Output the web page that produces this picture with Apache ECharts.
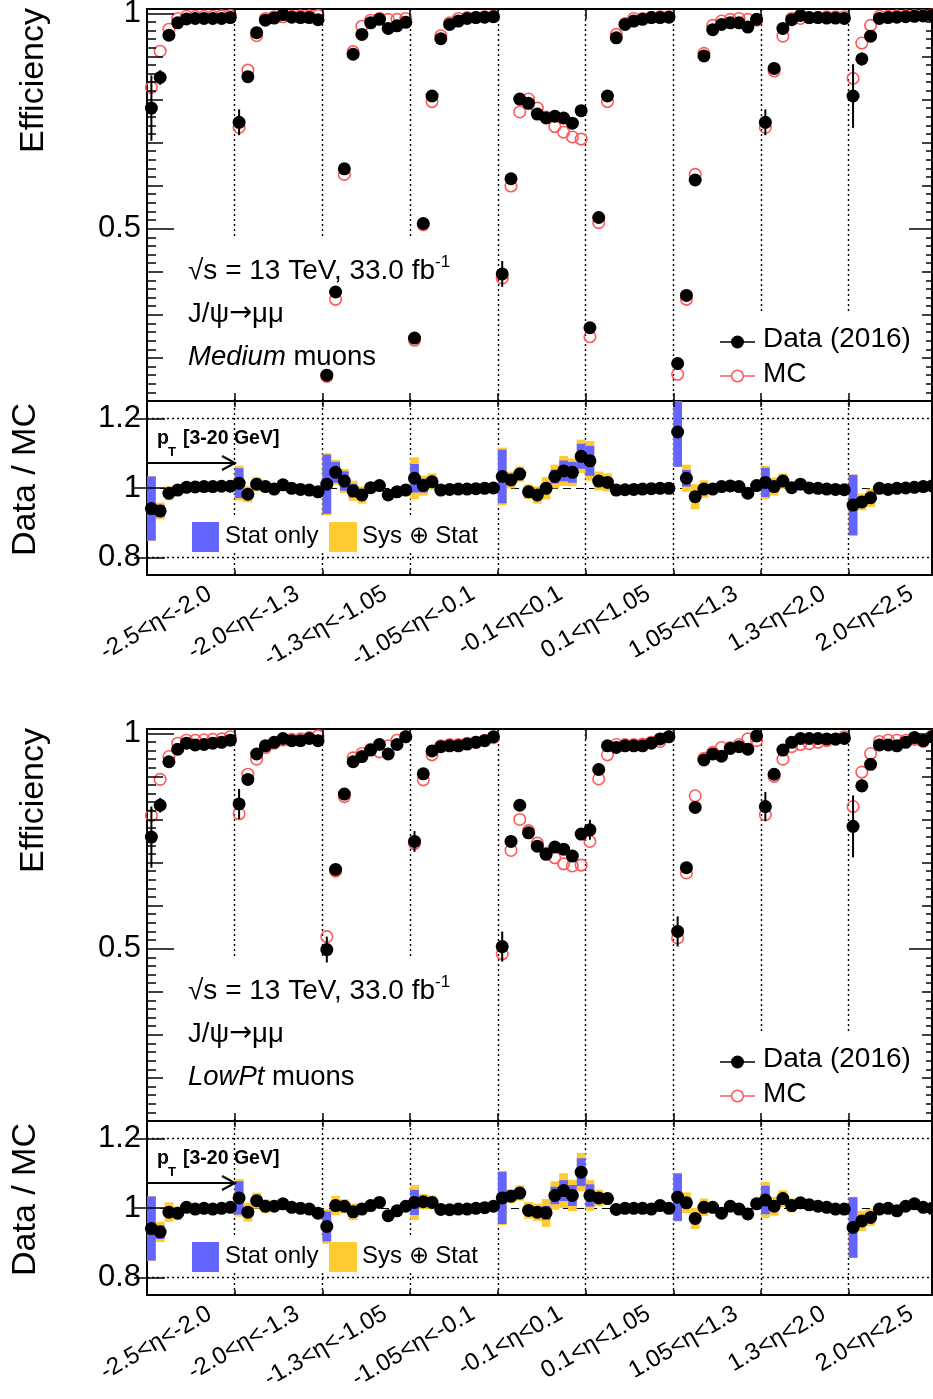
<!DOCTYPE html>
<html><head><meta charset="utf-8">
<script src="https://cdn.jsdelivr.net/npm/echarts@6/dist/echarts.min.js"></script>
<style>html,body{margin:0;padding:0;background:#fff}#c{width:933px;height:1399px}</style>
</head><body><div id="c"></div>
<script>
// ---------------- DATA ----------------
const etaLabels = ['-2.5<\u03b7<-2.0','-2.0<\u03b7<-1.3','-1.3<\u03b7<-1.05','-1.05<\u03b7<-0.1','-0.1<\u03b7<0.1','0.1<\u03b7<1.05','1.05<\u03b7<1.3','1.3<\u03b7<2.0','2.0<\u03b7<2.5'];
const regionEdges = [10,20,30,40,50,60,70,80];
const effTickValues = [0.5, 1];
const ratioTickValues = [0.8, 1, 1.2];

// Medium muons (top)
const medData = [
 0.780,0.851,0.949,0.978,0.987,0.988,0.988,0.988,0.988,0.990,
 0.747,0.853,0.955,0.984,0.989,0.997,0.991,0.990,0.990,0.985,
 0.160,0.353,0.639,0.905,0.951,0.978,0.986,0.965,0.971,0.979,
 0.246,0.512,0.808,0.941,0.974,0.982,0.988,0.990,0.991,0.992,
 0.395,0.616,0.801,0.791,0.766,0.757,0.761,0.757,0.745,0.774,
 0.270,0.526,0.808,0.943,0.974,0.982,0.986,0.990,0.990,0.991,
 0.187,0.345,0.613,0.901,0.962,0.974,0.978,0.978,0.968,0.986,
 0.747,0.872,0.965,0.985,0.995,0.990,0.990,0.989,0.989,0.988,
 0.808,0.894,0.947,0.988,0.990,0.991,0.992,0.993,0.994,0.995];
const medMC = [
 0.828,0.912,0.963,0.988,0.993,0.993,0.993,0.993,0.994,0.995,
 0.735,0.868,0.948,0.988,0.992,0.992,0.993,0.994,0.994,0.995,
 0.157,0.336,0.626,0.911,0.970,0.984,0.988,0.986,0.986,0.988,
 0.241,0.509,0.795,0.948,0.978,0.988,0.990,0.991,0.992,0.993,
 0.385,0.599,0.771,0.801,0.780,0.759,0.737,0.724,0.713,0.708,
 0.249,0.514,0.795,0.951,0.976,0.988,0.988,0.991,0.992,0.992,
 0.162,0.336,0.626,0.907,0.972,0.982,0.986,0.988,0.986,0.984,
 0.735,0.866,0.947,0.988,0.988,0.990,0.991,0.992,0.992,0.992,
 0.849,0.931,0.972,0.993,0.993,0.994,0.994,0.995,0.995,0.996];
const medErr = [
 0.076,0.017,0,0,0,0,0,0,0,0,
 0.030,0,0,0,0,0,0,0,0,0,
 0,0,0,0,0,0,0,0,0,0,
 0,0,0,0,0,0,0,0,0,0,
 0.030,0,0,0,0,0,0,0,0,0,
 0,0,0,0,0,0,0,0,0,0,
 0.015,0,0,0,0,0,0,0,0,0,
 0.030,0,0,0,0,0,0,0,0,0,
 0.074,0.015,0,0,0,0,0,0,0,0];
const medRatio = [
 0.941,0.934,0.985,0.994,1.002,1.003,1.004,1.004,1.005,1.005,
 1.014,0.982,1.011,1.004,0.997,1.009,0.999,0.996,0.994,0.989,
 1.011,1.045,1.020,0.992,0.980,1.001,1.007,0.980,0.989,0.994,
 1.028,1.007,1.018,0.994,0.996,0.997,0.997,0.998,0.999,1.000,
 1.033,1.023,1.040,0.989,0.980,0.999,1.033,1.049,1.045,1.091,
 1.078,1.020,1.016,0.994,0.995,0.996,0.997,0.998,0.999,0.999,
 1.161,1.028,0.975,0.997,0.997,1.004,1.006,1.004,0.985,1.007,
 1.016,1.004,1.020,1.001,1.011,1.000,0.999,0.997,0.996,0.995,
 0.951,0.960,0.972,0.999,0.996,0.999,1.000,1.002,1.004,1.006];
const medStat = [
 0.092,0.018,0.010,0.005,0.003,0.003,0.003,0.003,0.003,0.003,
 0.043,0.015,0.012,0.006,0.004,0.004,0.004,0.004,0.004,0.004,
 0.085,0.030,0.028,0.020,0.012,0.006,0.005,0.005,0.005,0.005,
 0.041,0.020,0.012,0.005,0.004,0.004,0.004,0.004,0.004,0.004,
 0.077,0.015,0.012,0.010,0.010,0.015,0.020,0.030,0.030,0.036,
 0.043,0.012,0.010,0.005,0.004,0.004,0.004,0.004,0.004,0.004,
 0.100,0.024,0.015,0.010,0.005,0.005,0.005,0.005,0.005,0.005,
 0.042,0.012,0.010,0.005,0.004,0.004,0.004,0.004,0.004,0.004,
 0.087,0.012,0.010,0.005,0.004,0.004,0.004,0.004,0.004,0.004];
const medTot = [
 0.093,0.024,0.020,0.012,0.006,0.006,0.006,0.006,0.006,0.006,
 0.050,0.023,0.020,0.012,0.008,0.008,0.008,0.008,0.008,0.008,
 0.089,0.036,0.035,0.029,0.025,0.010,0.008,0.008,0.008,0.008,
 0.060,0.029,0.024,0.010,0.008,0.008,0.008,0.008,0.008,0.008,
 0.083,0.024,0.022,0.021,0.025,0.032,0.034,0.043,0.040,0.048,
 0.057,0.027,0.026,0.017,0.008,0.008,0.008,0.008,0.008,0.008,
 0.100,0.039,0.036,0.025,0.010,0.008,0.008,0.008,0.008,0.008,
 0.048,0.026,0.022,0.012,0.008,0.008,0.008,0.008,0.008,0.008,
 0.088,0.024,0.026,0.012,0.008,0.008,0.008,0.008,0.008,0.008];

// LowPt muons (bottom)
const lowData = [
 0.759,0.833,0.934,0.963,0.977,0.973,0.974,0.977,0.979,0.984,
 0.836,0.893,0.952,0.971,0.979,0.988,0.983,0.983,0.988,0.983,
 0.498,0.684,0.859,0.934,0.946,0.961,0.974,0.952,0.974,0.992,
 0.749,0.906,0.959,0.969,0.971,0.971,0.975,0.979,0.983,0.992,
 0.505,0.749,0.833,0.769,0.738,0.719,0.736,0.731,0.715,0.766,
 0.776,0.916,0.971,0.967,0.971,0.971,0.971,0.977,0.987,0.992,
 0.540,0.688,0.828,0.938,0.952,0.947,0.965,0.969,0.963,0.994,
 0.830,0.905,0.961,0.979,0.988,0.988,0.988,0.987,0.987,0.988,
 0.784,0.878,0.928,0.973,0.973,0.971,0.979,0.990,0.983,0.992];
const lowMC = [
 0.809,0.893,0.946,0.977,0.984,0.984,0.985,0.986,0.987,0.992,
 0.813,0.905,0.940,0.967,0.977,0.984,0.986,0.987,0.990,0.994,
 0.528,0.680,0.853,0.943,0.953,0.963,0.957,0.971,0.984,0.992,
 0.744,0.892,0.950,0.971,0.974,0.974,0.977,0.979,0.984,0.990,
 0.488,0.728,0.800,0.774,0.745,0.722,0.711,0.697,0.692,0.694,
 0.749,0.894,0.950,0.974,0.974,0.974,0.975,0.979,0.981,0.992,
 0.525,0.676,0.855,0.942,0.956,0.967,0.967,0.974,0.987,0.983,
 0.811,0.900,0.940,0.969,0.974,0.976,0.979,0.983,0.986,0.992,
 0.830,0.910,0.953,0.981,0.984,0.984,0.984,0.986,0.981,0.994];
const lowErr = [
 0.071,0.017,0,0,0,0,0,0,0,0,
 0.035,0,0,0,0,0,0,0,0,0,
 0.030,0,0,0,0,0,0,0,0,0,
 0.024,0,0,0,0,0,0,0,0,0,
 0.035,0,0,0,0,0,0,0,0,0,
 0.023,0,0,0,0,0,0,0,0,0,
 0.035,0,0,0,0,0,0,0,0,0,
 0.034,0,0,0,0,0,0,0,0,0,
 0.072,0.015,0,0,0,0,0,0,0,0];
const lowRatio = [
 0.941,0.931,0.988,0.985,1.002,0.997,0.999,0.997,0.999,1.002,
 1.029,0.988,1.021,1.005,1.005,1.012,1.002,0.999,0.997,0.985,
 0.947,1.007,1.005,0.989,0.997,1.007,1.016,0.978,0.992,1.005,
 1.016,1.018,1.016,0.996,0.995,0.997,0.997,0.999,1.001,1.005,
 1.029,1.034,1.043,0.993,0.988,0.986,1.036,1.050,1.036,1.103,
 1.036,1.029,1.027,0.996,0.999,0.999,0.999,0.997,1.007,0.999,
 1.031,1.015,0.970,1.002,1.002,0.985,1.005,0.997,0.983,1.012,
 1.023,1.005,1.027,1.007,1.015,1.009,1.005,1.002,0.997,0.997,
 0.944,0.963,0.973,0.997,0.999,0.992,1.005,1.012,1.002,0.999];
const lowStat = [
 0.092,0.020,0.012,0.008,0.004,0.004,0.004,0.004,0.004,0.004,
 0.048,0.015,0.012,0.008,0.005,0.005,0.005,0.005,0.005,0.005,
 0.043,0.015,0.012,0.010,0.006,0.006,0.006,0.006,0.006,0.006,
 0.036,0.015,0.010,0.005,0.004,0.004,0.004,0.004,0.004,0.004,
 0.075,0.012,0.012,0.012,0.012,0.020,0.025,0.030,0.030,0.040,
 0.032,0.012,0.010,0.005,0.004,0.004,0.004,0.004,0.004,0.004,
 0.068,0.015,0.012,0.010,0.005,0.005,0.005,0.005,0.005,0.005,
 0.041,0.012,0.010,0.010,0.005,0.005,0.005,0.005,0.005,0.005,
 0.087,0.015,0.012,0.006,0.004,0.004,0.004,0.004,0.004,0.004];
const lowTot = [
 0.093,0.029,0.028,0.020,0.010,0.010,0.010,0.010,0.010,0.010,
 0.054,0.027,0.023,0.020,0.012,0.010,0.010,0.010,0.010,0.010,
 0.050,0.028,0.020,0.024,0.015,0.012,0.012,0.012,0.012,0.012,
 0.050,0.022,0.020,0.012,0.010,0.010,0.010,0.010,0.010,0.010,
 0.078,0.020,0.022,0.024,0.025,0.040,0.041,0.050,0.045,0.055,
 0.044,0.024,0.017,0.012,0.010,0.010,0.010,0.010,0.010,0.010,
 0.070,0.030,0.030,0.025,0.012,0.010,0.010,0.010,0.010,0.010,
 0.052,0.027,0.024,0.020,0.012,0.010,0.010,0.010,0.010,0.010,
 0.088,0.029,0.024,0.015,0.010,0.010,0.010,0.010,0.010,0.010];

// ---------------- LAYOUT / STYLE ----------------
const FONT = "'Liberation Sans', Arial, Helvetica, sans-serif";
const RED = '#ff5a5a', BLUE = '#6464ff', YELLOW = '#ffcb30';
const L = 147, W = 785, XMAX = 89.5;
const REGION_PX = W / XMAX * 10;
const medTicks = [], minTicks = [];
for (let k = 1; k <= 10; k++) medTicks.push(+(k/10).toFixed(2));
for (let k = 5; k <= 50; k++) if (k % 5) minTicks.push(+(k/50).toFixed(2));
const fmt = v => (Math.abs(v-1) < 1e-9 ? '1' : String(+(+v).toFixed(2)));

const grid = [], xAxis = [], yAxis = [], series = [], graphic = [];
function clipRect(r, cs) {
  return echarts.graphic.clipRectByRect(r, {x: cs.x, y: cs.y, width: cs.width, height: cs.height});
}
function yTick(gi, min, max, pos, values, len, labels) {
  yAxis.push({
    gridIndex: gi, type: 'value', min, max, position: pos, z: 6,
    axisLine: {show: false}, splitLine: {show: false},
    axisTick: {show: true, inside: true, length: len, customValues: values, lineStyle: {color: '#000', width: 1.5}},
    axisLabel: labels ? {show: true, customValues: values, formatter: fmt, fontSize: 31, fontFamily: FONT, color: '#000', margin: 6} : {show: false}
  });
  return yAxis.length - 1;
}
function xTick(gi, pos, len) {
  xAxis.push({
    gridIndex: gi, type: 'value', min: 0, max: XMAX, interval: 10, position: pos, z: 6,
    axisLine: {show: false}, splitLine: {show: false}, axisLabel: {show: false},
    axisTick: {show: true, inside: true, length: len, lineStyle: {color: '#000', width: 1.5}}
  });
  return xAxis.length - 1;
}
function panel(oy, dat, mc, err, ratio, stat, tot, italicWord) {
  const gMain = grid.length;
  grid.push({left: L, top: 9 + oy, width: W, height: 392, show: true, borderColor: '#000', borderWidth: 2, backgroundColor: 'transparent', outerBoundsMode: 'none'});
  const gRat = grid.length;
  grid.push({left: L, top: 401 + oy, width: W, height: 174, show: true, borderColor: '#000', borderWidth: 2, backgroundColor: 'transparent', outerBoundsMode: 'none'});

  const xm = xTick(gMain, 'bottom', 8); xTick(gMain, 'top', 10);
  const xr = xTick(gRat, 'bottom', 5); xTick(gRat, 'top', 6);

  const ym = yTick(gMain, 0.1, 1.01, 'left', effTickValues, 27, true);
  yTick(gMain, 0.1, 1.01, 'left', medTicks, 16, false);
  yTick(gMain, 0.1, 1.01, 'left', minTicks, 9, false);
  yTick(gMain, 0.1, 1.01, 'right', effTickValues, 23, false);
  yTick(gMain, 0.1, 1.01, 'right', medTicks, 10, false);
  yTick(gMain, 0.1, 1.01, 'right', minTicks, 6, false);
  const yr = yTick(gRat, 0.75, 1.25, 'left', ratioTickValues, 18, true);
  yTick(gRat, 0.75, 1.25, 'right', ratioTickValues, 13, false);

  // rotated eta labels (own grid, shifted so the label ends sit as in the original)
  const gLab = grid.length;
  grid.push({left: L + 19, top: 401 + oy, width: REGION_PX * 9, height: 174, show: false, outerBoundsMode: 'none'});
  xAxis.push({gridIndex: gLab, type: 'category', data: etaLabels, boundaryGap: true, position: 'bottom',
    axisLine: {show: false}, axisTick: {show: false}, splitLine: {show: false},
    axisLabel: {show: true, interval: 0, rotate: 30, fontSize: 24, fontFamily: FONT, color: '#000', margin: 17, hideOverlap: false}});
  yAxis.push({gridIndex: gLab, type: 'value', show: false, min: 0, max: 1});

  const dotted = {type: [2, 3], color: '#000', width: 1.4};
  const ml = (data) => ({silent: true, z: 1, symbol: ['none', 'none'], label: {show: false}, animation: false, lineStyle: dotted, data});

  series.push({type: 'scatter', xAxisIndex: xm, yAxisIndex: ym, z: 3, clip: false,
    symbol: 'circle', symbolSize: 11.5,
    itemStyle: {color: 'rgba(0,0,0,0)', borderColor: RED, borderWidth: 1.6, opacity: 1},
    data: mc.map((v, i) => [i + 0.5, v]),
    markLine: ml(regionEdges.map(e => ({xAxis: e})))});
  series.push({type: 'custom', xAxisIndex: xm, yAxisIndex: ym, z: 4,
    data: dat.map((v, i) => [i + 0.5, v - err[i], v + err[i]]),
    encode: {x: 0, y: [1, 2]},
    renderItem: (params, api) => {
      if (api.value(2) - api.value(1) <= 0) return null;
      const a = api.coord([api.value(0), api.value(1)]);
      const b = api.coord([api.value(0), api.value(2)]);
      return {type: 'line', shape: {x1: a[0], y1: a[1], x2: b[0], y2: b[1]}, style: {stroke: '#000', lineWidth: 2}};
    }});
  series.push({type: 'scatter', xAxisIndex: xm, yAxisIndex: ym, z: 5, clip: false,
    symbol: 'circle', symbolSize: 13, itemStyle: {color: '#000', opacity: 1},
    data: dat.map((v, i) => [i + 0.5, v])});

  const box = (half, color, z) => ({type: 'custom', xAxisIndex: xr, yAxisIndex: yr, z,
    data: ratio.map((r, i) => [i, r - half[i], r + half[i]]),
    encode: {x: 0, y: [1, 2]},
    renderItem: (params, api) => {
      const p0 = api.coord([api.value(0), api.value(2)]);
      const p1 = api.coord([api.value(0) + 1, api.value(1)]);
      const r = clipRect({x: p0[0], y: p0[1], width: p1[0] - p0[0], height: p1[1] - p0[1]}, params.coordSys);
      return r ? {type: 'rect', shape: r, style: {fill: color}} : null;
    }});
  series.push(box(tot, YELLOW, 2));
  series.push(box(stat, BLUE, 3));
  series.push({type: 'scatter', xAxisIndex: xr, yAxisIndex: yr, z: 5, clip: false,
    symbol: 'circle', symbolSize: 13, itemStyle: {color: '#000', opacity: 1},
    data: ratio.map((v, i) => [i + 0.5, v]),
    markLine: ml(regionEdges.map(e => ({xAxis: e})).concat([
        {yAxis: 0.8}, {yAxis: 1.2},
        {yAxis: 1, lineStyle: {type: [8, 5], color: '#000', width: 1.2}}]))});

  // white boxes behind annotations / legends (they hide the dotted lines as in the original)
  const cover = (x, y, w, h) => graphic.push({type: 'rect', z: 2, silent: true, shape: {x, y: y + oy, width: w, height: h}, style: {fill: '#fff'}});
  cover(180, 237, 290, 161);
  cover(712, 313, 200, 85);
  cover(185, 518, 295, 35);

  const T = (x, y, text, size, extra, rot) => { const el = {type: 'text', z: 10, silent: true, x, y: y + oy,
    style: Object.assign({text, fontSize: size, fontFamily: FONT, fill: '#000', align: 'left', verticalAlign: 'middle'}, extra || {})};
    if (rot) el.rotation = rot; graphic.push(el); };
  T(34, 8, 'Efficiency', 34, {align: 'right'}, Math.PI / 2);
  T(26, 403, 'Data / MC', 34, {align: 'right'}, Math.PI / 2);

  T(188, 271, '\u221As = 13 TeV, 33.0 fb', 28);
  T(435, 262, '-1', 17);
  T(188, 314, '{a|J/\u03c8}{b|\u2192}{a|\u03bc\u03bc}', 27.5,
    {rich: {a: {fontSize: 27.5, fontFamily: FONT, fill: '#000'}, b: {fontSize: 27.5, fontFamily: "'DejaVu Sans'", fill: '#000'}}});
  T(188, 357, '{i|' + italicWord + '} muons', 27.5, {rich: {i: {fontStyle: 'italic', fontSize: 27.5, fontFamily: FONT, fill: '#000'}}});

  const G = (el) => graphic.push(Object.assign({z: 10, silent: true}, el));
  G({type: 'line', shape: {x1: 720, y1: 342 + oy, x2: 755, y2: 342 + oy}, style: {stroke: '#000', lineWidth: 1.5}});
  G({type: 'circle', shape: {cx: 737.5, cy: 342 + oy, r: 6.5}, style: {fill: '#000'}});
  T(763, 339, 'Data (2016)', 28);
  G({type: 'line', shape: {x1: 720, y1: 376 + oy, x2: 731.5, y2: 376 + oy}, style: {stroke: RED, lineWidth: 1.5}});
  G({type: 'line', shape: {x1: 743.5, y1: 376 + oy, x2: 755, y2: 376 + oy}, style: {stroke: RED, lineWidth: 1.5}});
  G({type: 'circle', shape: {cx: 737.5, cy: 376 + oy, r: 5.8}, style: {fill: 'none', stroke: RED, lineWidth: 1.6}});
  T(763, 374, 'MC', 28);

  G({type: 'rect', shape: {x: 192, y: 522 + oy, width: 27, height: 30}, style: {fill: BLUE}});
  T(225, 536, 'Stat only', 24);
  G({type: 'rect', shape: {x: 329, y: 522 + oy, width: 28, height: 30}, style: {fill: YELLOW}});
  T(362, 536, 'Sys \u2295 Stat', 24);

  T(157, 439, 'p', 19.5, {fontWeight: 'bold'});
  T(168, 452, 'T', 13, {fontWeight: 'bold'});
  T(183, 439, '[3-20 GeV]', 19.5, {fontWeight: 'bold'});
  G({type: 'line', shape: {x1: 147, y1: 463 + oy, x2: 235, y2: 463 + oy}, style: {stroke: '#000', lineWidth: 2}});
  G({type: 'polyline', shape: {points: [[222, 456 + oy], [235, 463 + oy], [222, 470 + oy]]}, style: {stroke: '#000', lineWidth: 2, fill: 'none'}});
}
panel(0, medData, medMC, medErr, medRatio, medStat, medTot, 'Medium');
panel(720, lowData, lowMC, lowErr, lowRatio, lowStat, lowTot, 'LowPt');

const chart = echarts.init(document.getElementById('c'), null, {renderer: 'canvas'});
chart.setOption({animation: false, backgroundColor: '#fff', grid, xAxis, yAxis, series, graphic});
</script>
</body></html>
